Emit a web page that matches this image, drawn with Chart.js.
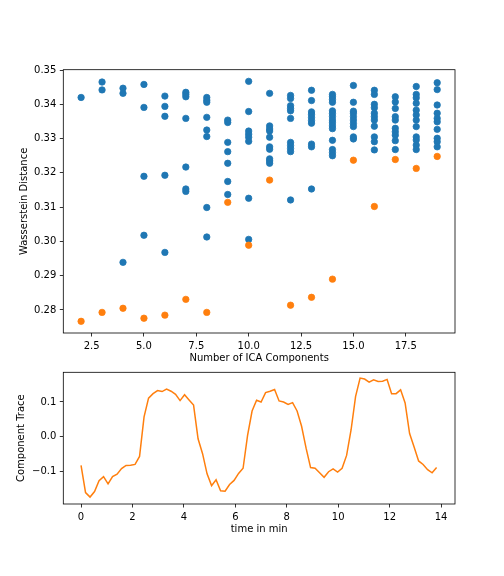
<!DOCTYPE html>
<html>
<head>
<meta charset="utf-8">
<script src="https://cdn.jsdelivr.net/npm/chart.js@4/dist/chart.umd.min.js"></script>
<style>
  html, body { margin: 0; padding: 0; background: #fff; }
  #wrap { position: relative; width: 504px; height: 576px; }
  canvas { position: absolute; left: 0; display: block; }
</style>
</head>
<body>
<div id="wrap">
  <canvas id="scatter-chart" width="504" height="368" style="top:0"></canvas>
  <canvas id="trace-chart" width="504" height="216" style="top:360px"></canvas>
</div>
<script>
// Top panel: Wasserstein distance per number of ICA components
const icaCounts = [2, 3, 4, 5, 6, 7, 8, 9, 10, 11, 12, 13, 14, 15, 16, 17, 18, 19];

const blueDistances = [
  [0.3420],
  [0.3465, 0.3442],
  [0.3447, 0.3432, 0.2939],
  [0.3458, 0.3391, 0.3190, 0.3018],
  [0.3424, 0.3394, 0.3365, 0.3193, 0.2968],
  [0.3435, 0.3429, 0.3422, 0.3359, 0.3217, 0.3153, 0.3146],
  [0.3420, 0.3412, 0.3406, 0.3362, 0.3325, 0.3306, 0.3099, 0.3013],
  [0.3354, 0.3347, 0.3289, 0.3262, 0.3228, 0.3175, 0.3137],
  [0.3467, 0.3379, 0.3322, 0.3313, 0.3304, 0.3292, 0.3126, 0.3006],
  [0.3432, 0.3337, 0.3328, 0.3322, 0.3304, 0.3276, 0.3269, 0.3241, 0.3235, 0.3228],
  [0.3426, 0.3417, 0.3396, 0.3388, 0.3381, 0.3359, 0.3289, 0.3280, 0.3271, 0.3262, 0.3121],
  [0.3441, 0.3411, 0.3378, 0.3371, 0.3362, 0.3353, 0.3345, 0.3284, 0.3276, 0.3153],
  [0.3429, 0.3422, 0.3414, 0.3406, 0.3381, 0.3373, 0.3364, 0.3354, 0.3346, 0.3337, 0.3329, 0.3295, 0.3268, 0.3259, 0.3250],
  [0.3455, 0.3406, 0.3380, 0.3374, 0.3364, 0.3354, 0.3344, 0.3335, 0.3305, 0.3299],
  [0.3441, 0.3429, 0.3400, 0.3390, 0.3374, 0.3364, 0.3354, 0.3336, 0.3305, 0.3291, 0.3267],
  [0.3422, 0.3407, 0.3388, 0.3364, 0.3354, 0.3330, 0.3320, 0.3310, 0.3294, 0.3268],
  [0.3452, 0.3429, 0.3419, 0.3403, 0.3383, 0.3369, 0.3354, 0.3335, 0.3305, 0.3296, 0.3281, 0.3268],
  [0.3463, 0.3443, 0.3398, 0.3374, 0.3359, 0.3349, 0.3327, 0.3301, 0.3291, 0.3276],
];

const orangeDistances = [
  0.2767, 0.2793, 0.2805, 0.2776, 0.2785, 0.2831, 0.2793, 0.3114, 0.2989,
  0.3179, 0.2814, 0.2837, 0.2890, 0.3237, 0.3102, 0.3239, 0.3213, 0.3248,
];

const scatterXTicks = [2.5, 5.0, 7.5, 10.0, 12.5, 15.0, 17.5];
const scatterYTicks = [0.28, 0.29, 0.30, 0.31, 0.32, 0.33, 0.34, 0.35];

// Bottom panel: component trace over time
const SAMPLE_MIN = 0.175; // minutes between samples
const traceValues = [
  -0.083, -0.161, -0.174, -0.158, -0.127, -0.115, -0.136, -0.115, -0.108, -0.092,
  -0.083, -0.082, -0.080, -0.057, 0.057, 0.111, 0.124, 0.133, 0.130, 0.137,
  0.131, 0.122, 0.104, 0.121, 0.106, 0.091, -0.006, -0.049, -0.107, -0.141,
  -0.124, -0.156, -0.157, -0.138, -0.126, -0.106, -0.091, 0.004, 0.074, 0.105,
  0.100, 0.127, 0.131, 0.136, 0.103, 0.100, 0.093, 0.098, 0.074, 0.030,
  -0.033, -0.089, -0.091, -0.104, -0.117, -0.101, -0.093, -0.102, -0.091, -0.054,
  0.020, 0.116, 0.169, 0.166, 0.157, 0.164, 0.159, 0.160, 0.165, 0.124,
  0.124, 0.135, 0.097, 0.009, -0.030, -0.070, -0.080, -0.095, -0.104, -0.089,
];

const traceXTicks = [0, 2, 4, 6, 8, 10, 12, 14];
const traceYTicks = [-0.1, 0.0, 0.1];

const BLUE = "#1f77b4";
const ORANGE = "#ff7f0e";

Chart.defaults.font.family = "'DejaVu Sans', sans-serif";
Chart.defaults.font.size = 10;
Chart.defaults.color = "#000";

// matplotlib-style box around the plot area
const frameBox = {
  id: "frameBox",
  afterDraw(chart) {
    const { ctx, chartArea: a } = chart;
    ctx.save();
    ctx.strokeStyle = "#000";
    ctx.lineWidth = 0.8;
    ctx.strokeRect(a.left, a.top, a.right - a.left, a.bottom - a.top);
    ctx.restore();
  },
};

const tickGrid = {
  display: true,
  drawOnChartArea: false,
  drawTicks: true,
  tickLength: 3.5,
  color: "#000",
  lineWidth: 0.8,
};

const fixedTicks = (values) => (scale) => {
  scale.ticks = values.map((v) => ({ value: v }));
};

const makeAxis = (min, max, ticks, fmt, fit, title, titlePad) => ({
  type: "linear",
  min: min,
  max: max,
  grid: tickGrid,
  border: { display: false },
  afterBuildTicks: fixedTicks(ticks),
  afterFit: fit,
  ticks: { padding: 3.5, autoSkip: false, maxRotation: 0, callback: fmt },
  title: { display: true, text: title, padding: titlePad, font: { size: 10 } },
});

const minusFmt = (s) => s.replace("-", "\u2212");

// ---- scatter chart ----
const bluePoints = [];
icaCounts.forEach((n, i) => {
  blueDistances[i].forEach((d) => bluePoints.push({ x: n, y: d }));
});
const orangePoints = icaCounts.map((n, i) => ({ x: n, y: orangeDistances[i] }));

new Chart(document.getElementById("scatter-chart"), {
  type: "scatter",
  data: {
    datasets: [
      {
        data: bluePoints,
        backgroundColor: BLUE,
        borderColor: BLUE,
        pointRadius: 3.2,
        borderWidth: 0.8,
        order: 2,
      },
      {
        data: orangePoints,
        backgroundColor: ORANGE,
        borderColor: ORANGE,
        pointRadius: 3.2,
        borderWidth: 0.8,
        order: 1,
      },
    ],
  },
  options: {
    responsive: false,
    animation: false,
    events: [],
    layout: { padding: { top: 69.7, right: 49, left: 0, bottom: 0 } },
    plugins: { legend: { display: false }, tooltip: { enabled: false } },
    scales: {
      x: makeAxis(1.15, 19.85, scatterXTicks, (v) => Number(v).toFixed(1),
        (s) => { s.height = 35; }, "Number of ICA Components", { top: 0, bottom: 3.7 }),
      y: makeAxis(0.27329, 0.3501, scatterYTicks, (v) => Number(v).toFixed(2),
        (s) => { s.width = 63.3; }, "Wasserstein Distance", { top: 18, bottom: 0 }),
    },
  },
  plugins: [frameBox],
});

// ---- trace chart ----
const tracePoints = traceValues.map((v, i) => ({ x: i * SAMPLE_MIN, y: v }));

new Chart(document.getElementById("trace-chart"), {
  type: "line",
  data: {
    datasets: [
      {
        data: tracePoints,
        borderColor: ORANGE,
        backgroundColor: ORANGE,
        borderWidth: 1.5,
        pointRadius: 0,
        tension: 0,
        fill: false,
      },
    ],
  },
  options: {
    responsive: false,
    animation: false,
    events: [],
    layout: { padding: { top: 12.3, right: 49, left: 0, bottom: 38 } },
    plugins: { legend: { display: false }, tooltip: { enabled: false } },
    scales: {
      x: makeAxis(-0.69, 14.54, traceXTicks, (v) => String(v),
        (s) => { s.height = 34; }, "time in min", { top: 0, bottom: 3 }),
      y: makeAxis(-0.194, 0.1855, traceYTicks, (v) => minusFmt(Number(v).toFixed(1)),
        (s) => { s.width = 63.3; }, "Component Trace", { top: 15.5, bottom: 0 }),
    },
  },
  plugins: [frameBox],
});
</script>
</body>
</html>
